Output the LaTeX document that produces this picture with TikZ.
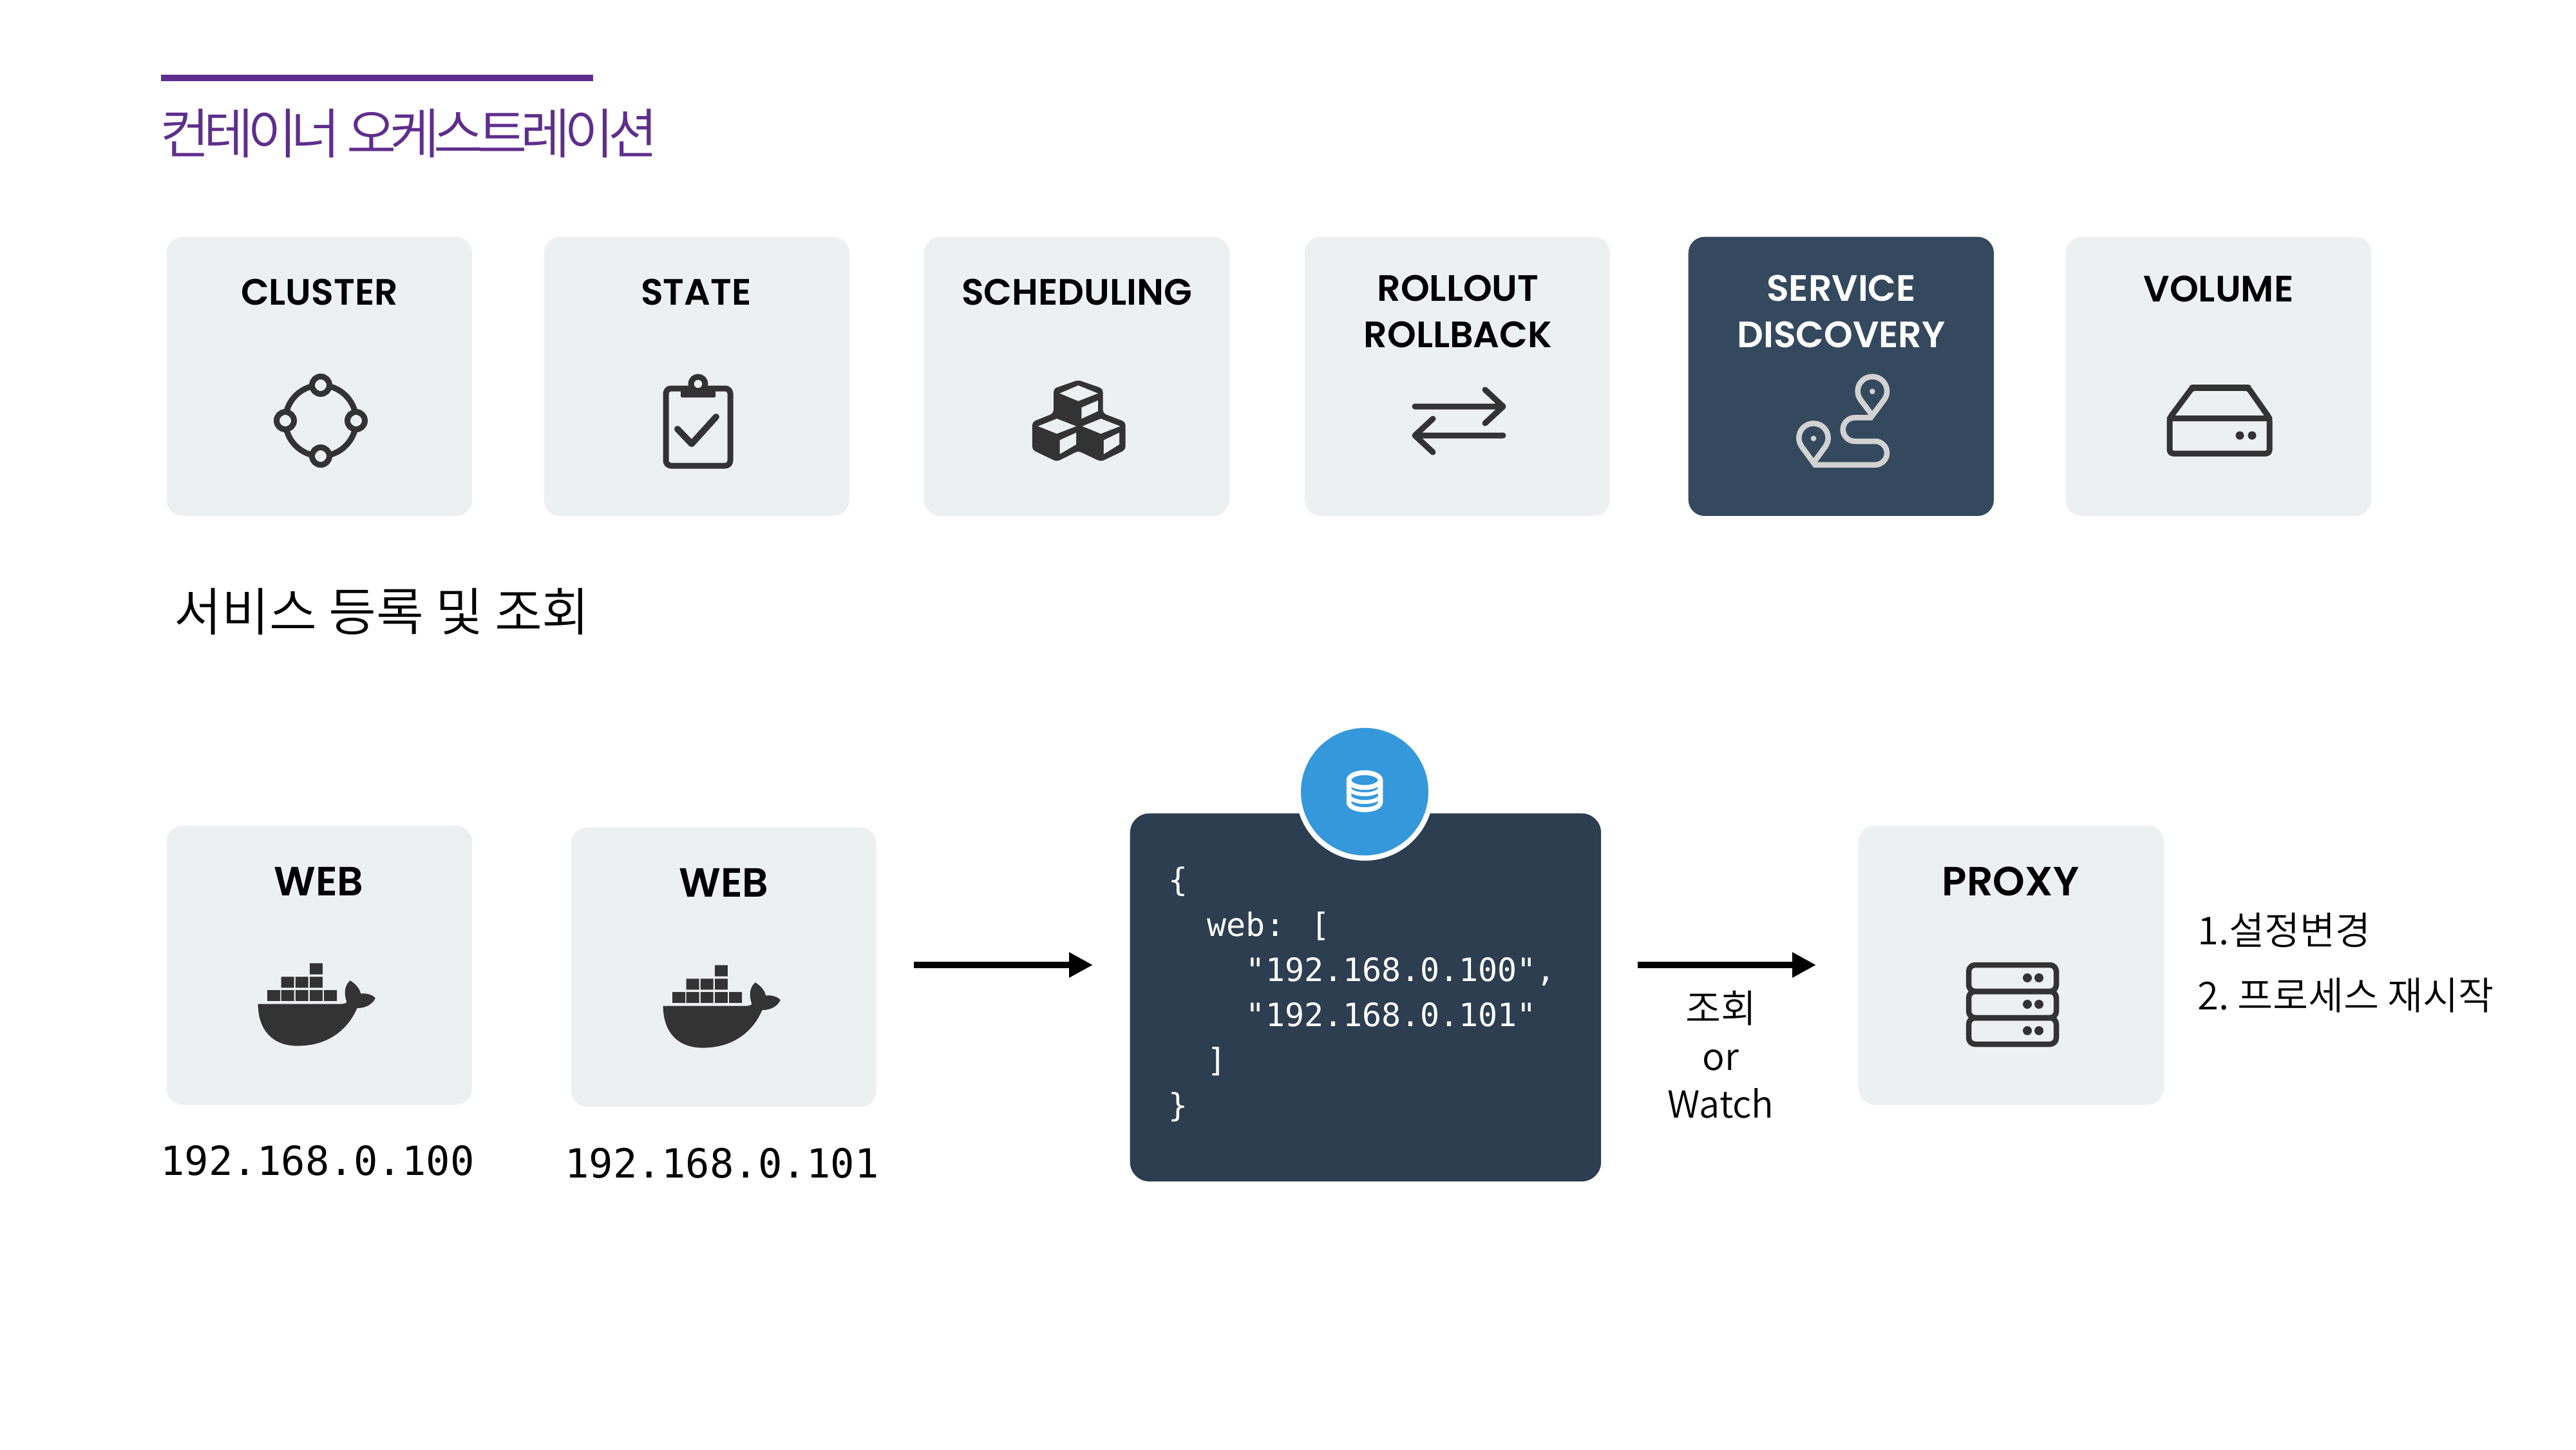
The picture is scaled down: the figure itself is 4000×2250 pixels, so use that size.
\documentclass[tikz,border=0pt]{standalone}
\usepackage{fontspec}
\usetikzlibrary{arrows.meta}
\setmainfont{Noto Sans CJK KR DemiLight}
\newfontfamily\labfont{Poppins SemiBold}
\newfontfamily\kofont{Noto Sans CJK KR DemiLight}
\newfontfamily\titlefont[LetterSpace=-11.5]{Noto Sans CJK KR DemiLight}
\newfontfamily\codefont{DejaVu Sans Mono}
\definecolor{cardbg}{HTML}{ECF0F1}
\definecolor{navy}{HTML}{34495E}
\definecolor{jsonbg}{HTML}{2C3E50}
\definecolor{dbblue}{HTML}{3498DB}
\definecolor{purp}{HTML}{5F2E8C}
\definecolor{ink}{HTML}{333333}
\definecolor{pale}{HTML}{D2D2D2}
\tikzset{
  card/.style={rounded corners=0.25cm,fill=cardbg,minimum width=4.74cm,minimum height=4.33cm,anchor=north west,inner sep=0pt},
  darkcard/.style={card,fill=navy},
  toplabel/.style={anchor=base,inner sep=0pt,align=center,font=\labfont\fontsize{16.2}{20.2}\selectfont},
  biglabel/.style={anchor=base,inner sep=0pt,font=\labfont\fontsize{18}{22}\selectfont},
  ip/.style={anchor=base,inner sep=0pt,font=\codefont\fontsize{17.7}{20}\selectfont},
  note/.style={inner sep=0pt,font=\kofont\fontsize{17}{21}\selectfont},
  icon/.style={draw=ink,line width=0.09cm,line join=round,line cap=round},
  flow/.style={line width=0.105cm,-{Triangle[length=0.37cm,width=0.37cm]}},
}
\newcommand{\mywhale}{%
  \fill[ink] (242,724) rectangle (268,768) (270,724) rectangle (296,768) (299,724) rectangle (325,768) (328,724) rectangle (354,768) (357,724) rectangle (383,768)
    (270,670) rectangle (296,714) (299,670) rectangle (325,714) (328,670) rectangle (354,714)
    (328,615) rectangle (354,660);
  \fill[ink] (223,780) -- (392,780) .. controls (398,780) and (402,776) .. (403,772)
    .. controls (397,740) and (398,705) .. (410,685)
    .. controls (422,700) and (430,720) .. (431,738)
    .. controls (445,735) and (457,745) .. (461,757)
    .. controls (455,780) and (443,797) .. (424,797)
    .. controls (405,885) and (365,950) .. (303,950)
    .. controls (250,950) and (223,880) .. (223,780) -- cycle;
}
\begin{document}
\begin{tikzpicture}[x=0.01cm,y=-0.01cm]
\useasboundingbox (0,0) rectangle (4000,2250);
% heading
\fill[purp] (250,116) rectangle (921,126);
\node[anchor=base west,inner sep=0pt,text=purp,font=\titlefont\fontsize{23.9}{28}\selectfont] (title) at (248,238) {컨테이너 오케스트레이션};
\node[anchor=base west,inner sep=0pt,font=\kofont\fontsize{22.85}{28}\selectfont] (subtitle) at (270,979) {서비스 등록 및 조회};
% top cards
\node[card] (cluster) at (258,367) {};
\node[card] (state) at (844,367) {};
\node[card] (sched) at (1434,367) {};
\node[card] (rollout) at (2025,367) {};
\node[darkcard] (service) at (2621,367) {};
\node[card] (volume) at (3207,367) {};
\node[toplabel] (tcluster) at (496,473) {CLUSTER};
\node[toplabel] (tstate) at (1081,473) {STATE};
\node[toplabel] (tsched) at (1672,473) {SCHEDULING};
\node[toplabel] (trollout) at (2264,539) {ROLLOUT\\ROLLBACK};
\node[toplabel,text=white] (tservice) at (2859,539) {SERVICE\\DISCOVERY};
\node[toplabel] (tvolume) at (3445,468) {VOLUME};
% cluster icon
\draw[icon] (498,653) circle (0.55cm);
\foreach \p in {(498,598),(498,708),(443,653),(553,653)}
  \draw[icon,fill=cardbg] \p circle (0.135cm);
% clipboard icon
\draw[icon,rounded corners=0.08cm] (1034,603) rectangle (1134,723);
\fill[ink,rounded corners=0.02cm] (1057,599) rectangle (1111,617);
\draw[icon,fill=cardbg] (1084,596) circle (0.11cm);
\draw[icon,line width=0.1cm] (1052,666) -- (1074,689) -- (1112,647);
% cubes icon
\begin{scope}[shift={(1400,340)},xscale=0.6378,yscale=0.3333]
\fill[ink,rounded corners=0.05cm] (430,750) -- (490,790) -- (490,905) -- (545,945) -- (545,1075) -- (485,1130) -- (430,1080) -- (378,1130) -- (318,1075) -- (318,945) -- (370,905) -- (370,790) -- cycle;
\fill[cardbg] (430,775) -- (478,812) -- (430,848) -- (385,812) -- cycle
 (478,845) -- (478,895) -- (438,930) -- (438,878) -- cycle
 (378,930) -- (425,965) -- (378,1000) -- (332,965) -- cycle
 (425,995) -- (425,1050) -- (385,1095) -- (385,1030) -- cycle
 (485,930) -- (532,965) -- (485,1000) -- (440,965) -- cycle
 (530,995) -- (530,1050) -- (492,1095) -- (492,1030) -- cycle;
\end{scope}
% rollout icon
\draw[icon] (2197,631) -- (2334,631) (2306,605) -- (2334,631) -- (2306,657);
\draw[icon] (2334,676) -- (2197,676) (2225,650) -- (2197,676) -- (2225,702);
% service icon
\begin{scope}[shift={(2770,570)},xscale=0.3333,yscale=0.3333]
\draw[draw=pale,line width=0.085cm,line join=miter] (412,225) -- (358,153) .. controls (349,141) and (344,127) .. (344,112) .. controls (344,74) and (374,44) .. (412,44) .. controls (450,44) and (480,74) .. (480,112) .. controls (480,127) and (475,141) .. (466,153) -- cycle;
\draw[draw=pale,line width=0.085cm,line join=miter] (138,445) -- (83,370) .. controls (75,358) and (70,344) .. (70,330) .. controls (70,292) and (100,262) .. (138,262) .. controls (176,262) and (206,292) .. (206,330) .. controls (206,344) and (201,358) .. (193,370) -- cycle;
\draw[draw=pale,line width=0.085cm] (412,235) -- (330,235) .. controls (300,235) and (275,260) .. (275,290) .. controls (275,320) and (300,345) .. (330,345) -- (425,345) .. controls (455,345) and (480,370) .. (480,400) .. controls (480,430) and (455,455) .. (425,455) -- (138,455);
\fill[pale] (412,113) ellipse [x radius=0.13cm,y radius=0.13cm] (138,332) ellipse [x radius=0.13cm,y radius=0.13cm];
\end{scope}
% volume icon
\draw[icon,rounded corners=0.05cm] (3404,602) -- (3491,602) -- (3524,649) -- (3524,704) -- (3369,704) -- (3369,649) -- cycle;
\draw[icon] (3369,649) -- (3524,649);
\draw[icon,line width=0.1cm] (3404,602) -- (3491,602);
\fill[ink] (3478,676) circle (0.065cm) (3497,676) circle (0.065cm);
% bottom row
\node[card] (web1) at (258,1281) {};
\node[card] (web2) at (886,1284) {};
\node[card] (proxy) at (2885,1281) {};
\node[biglabel] (tweb1) at (495,1390) {WEB};
\node[biglabel] (tweb2) at (1124,1392) {WEB};
\node[biglabel] (tproxy) at (3122,1390) {PROXY};
\begin{scope}[shift={(230,1260)},xscale=0.7653,yscale=0.3827]\mywhale\end{scope}
\begin{scope}[shift={(859,1263)},xscale=0.7653,yscale=0.3827]\mywhale\end{scope}
\node[ip] (ip1) at (493,1824) {192.168.0.100};
\node[ip] (ip2) at (1121,1828) {192.168.0.101};
% json card
\node[anchor=north west,fill=jsonbg,rounded corners=0.3cm,minimum width=7.31cm,minimum height=5.71cm,inner sep=0pt] (json) at (1754,1262) {};
\node[circle,fill=dbblue,draw=white,line width=0.08cm,minimum size=2.06cm,inner sep=0pt] (db) at (2119,1229) {};
\draw[white,line width=0.075cm] (2119,1211) ellipse [x radius=0.245cm,y radius=0.115cm];
\draw[white,line width=0.075cm] (2094.5,1211) -- (2094.5,1245) .. controls (2094.5,1253) and (2107,1257) .. (2119,1257) .. controls (2131,1257) and (2143.5,1253) .. (2143.5,1245) -- (2143.5,1211);
\draw[white,line width=0.06cm] (2094.5,1222) .. controls (2094.5,1229) and (2107,1233) .. (2119,1233) .. controls (2131,1233) and (2143.5,1229) .. (2143.5,1222);
\draw[white,line width=0.06cm] (2094.5,1234) .. controls (2094.5,1241) and (2107,1245) .. (2119,1245) .. controls (2131,1245) and (2143.5,1241) .. (2143.5,1234);
\node[anchor=base west,inner sep=0pt,align=left,text=white,font=\codefont\fontsize{14.2}{19.9}\selectfont] (code) at (1814,1733) {\{\\\phantom{xx}web: [\\\phantom{xxxx}"192.168.0.100",\\\phantom{xxxx}"192.168.0.101"\\\phantom{xx}]\\\}};
% arrows
\coordinate (a1s) at (1419,1498);
\coordinate (a1e) at (1697,1498);
\coordinate (a2s) at (2543,1498);
\coordinate (a2e) at (2820,1498);
\draw[flow] (a1s) -- (a1e);
\draw[flow] (a2s) -- (a2e);
\node[note,anchor=base,align=center] (watch) at (2672,1735) {조회\\{\fontsize{16.4}{21}\selectfont or}\\{\fontsize{16.4}{21}\selectfont Watch}};
% proxy icon
\foreach \a/\b in {1498/1539,1539/1580,1580/1621}
  \draw[icon,line width=0.085cm,rounded corners=0.1cm] (3057,\a) rectangle (3193,\b);
\foreach \yy in {1518,1559,1600}
  \fill[ink] (3148,\yy) circle (0.07cm) (3166,\yy) circle (0.07cm);
\node[note,anchor=base west] (n1) at (3412,1466) {1.\hspace{-5pt} 설정변경};
\node[note,anchor=base west] (n2) at (3412,1567) {2.\hspace{-1.4pt} 프로세스 재시작};
\end{tikzpicture}
\end{document}
